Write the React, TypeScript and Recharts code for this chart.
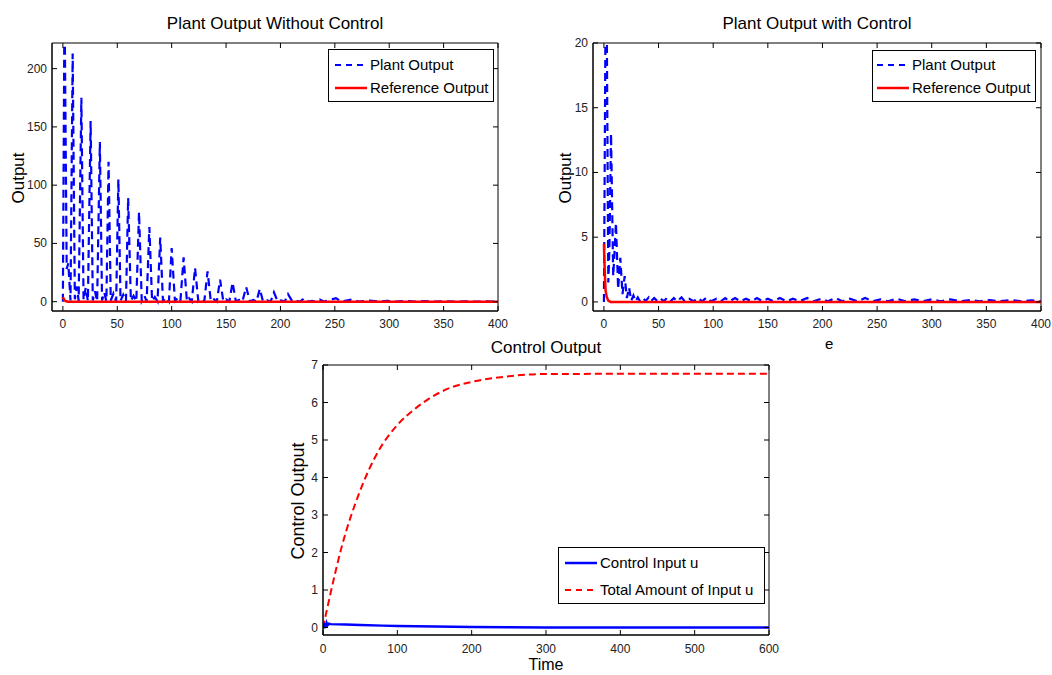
import React from 'react';
import { LineChart, Line, XAxis, YAxis, ReferenceArea } from 'recharts';

const FONT = '"Liberation Sans", Arial, Helvetica, sans-serif';

// --- Plot 1: plant output without control (t, output)
const plantOpen: [number, number][] = [
  [0, 0], [1.5, 260], [3.5, 28], [5, 33], [7, 1],
  [9, 213], [11, 2], [13, 13], [14.5, 0.5],
  [17, 175], [19, 1.5], [21, 12], [23, 0.5],
  [25.5, 155], [27.5, 1], [29.5, 9], [31.5, 0.4],
  [34, 137], [36, 1], [38, 8], [40, 0.4],
  [42, 120], [44, 1], [46.5, 7], [49, 0.3],
  [51, 105], [53, 0.8], [55.5, 6], [58, 0.3],
  [60, 89], [62.5, 0.8], [65, 5], [67.5, 0.3],
  [70, 77], [72.5, 0.6], [75, 5], [77, 0.2],
  [79.5, 64], [82, 0.6], [84.5, 4], [87, 0.2],
  [89.5, 55], [92, 0.5], [95, 3.5], [97.5, 0.2],
  [100, 46], [103, 0.5], [105.5, 3], [108, 0.2],
  [111, 38], [114, 0.4], [116, 3], [118.5, 0.2],
  [121.5, 29], [124.5, 0.4], [127, 2.5], [130, 0.2],
  [133, 26], [136, 0.3], [139, 2], [141.5, 0.1],
  [144.5, 19], [147.5, 0.3], [150, 2], [153, 0.1],
  [156, 16.5], [159, 0.3], [162, 1.5], [165, 0.1],
  [168.5, 12.5], [172, 0.2], [175, 1.5], [178, 0.1],
  [181, 11], [184, 0.2], [187.5, 1.2], [191, 0.1],
  [194, 8], [197.5, 0.2], [200.5, 1], [204, 0.1],
  [207, 6.5], [211, 0.1], [214.5, 0.8], [218, 0.1],
  [222, 3], [226, 0.1], [229, 0.6], [232, 0.05],
  [236, 1.8], [240, 0.1], [251, 3], [256, 0.1],
  [266, 2], [272, 0.1], [282, 1], [290, 0.05],
  [298, 0.8], [306, 0.05], [315, 0.6], [324, 0.05],
  [333, 0.5], [342, 0.05], [351, 0.4], [360, 0.05],
  [370, 0.3], [380, 0.05], [390, 0.2], [400, 0.05],
];
const refOpen: [number, number][] = [
  [0, 4], [1, 2], [2, 0.8], [3, 0.3], [5, 0], [400, 0],
];

// --- Plot 2: plant output with control
const plantCtrl: [number, number][] = [
  [0, 0], [2, 30], [4, 1.5], [5, 4], [6.5, 13], [8.5, 2], [9.5, 3.5], [11, 6.1],
  [13, 1], [15, 3.4], [17, 0.6], [19, 2], [21, 0.3], [23, 1.1], [25, 0.1],
  [27, 0.5], [29, 0.05], [31, 0.35], [33, 0.05], [36, 0.3], [38, 0.05],
  [41, 0.35], [43, 0.05], [46, 0.3], [49, 0.05], [52, 0.25], [55, 0.05],
  [58, 0.35], [61, 0.05], [64, 0.3], [67, 0.05], [71, 0.35], [74, 0.05],
  [78, 0.25], [82, 0.05], [86, 0.3], [90, 0.05], [94, 0.35], [98, 0.05],
  [103, 0.25], [107, 0.05], [111, 0.3], [115, 0.05], [120, 0.3], [125, 0.05],
  [130, 0.25], [135, 0.05], [140, 0.3], [145, 0.05], [150, 0.25], [155, 0.05],
  [161, 0.3], [167, 0.05], [173, 0.25], [179, 0.05], [186, 0.3], [192, 0.05],
  [199, 0.25], [205, 0.05], [212, 0.3], [218, 0.05], [225, 0.25], [232, 0.05],
  [239, 0.3], [246, 0.05], [253, 0.2], [260, 0.05], [268, 0.25], [276, 0.05],
  [284, 0.2], [292, 0.05], [300, 0.2], [308, 0.05], [317, 0.2], [326, 0.05],
  [335, 0.15], [344, 0.05], [353, 0.15], [362, 0.05], [372, 0.15], [382, 0.05],
  [391, 0.12], [400, 0.05],
];
const refCtrl: [number, number][] = [
  [0, 4.5], [0.5, 3], [1, 1.8], [1.5, 0.9], [2.5, 0.4], [4, 0.1], [6, 0], [400, 0],
];

// --- Plot 3: control output
const controlU: [number, number][] = [
  [0, 0], [1, 0.1], [2, -0.02], [3, 0.12], [4, 0], [5, 0.11], [6, 0.06], [8, 0.1],
  [10, 0.09], [30, 0.08], [50, 0.065], [80, 0.05], [100, 0.04], [150, 0.025],
  [200, 0.012], [250, 0.005], [300, 0], [600, 0],
];
const totalU: [number, number][] = [
  [0, 0], [5, 0.45], [10, 0.9], [25, 2.14], [50, 3.65], [75, 4.72], [100, 5.4],
  [125, 5.85], [150, 6.19], [175, 6.42], [200, 6.55], [250, 6.7], [300, 6.76], [600, 6.77],
];

const xTicks400 = [0, 50, 100, 150, 200, 250, 300, 350, 400];
const yTicksOpen = [0, 50, 100, 150, 200];
const yTicksCtrl = [0, 5, 10, 15, 20];
const xTicks600 = [0, 100, 200, 300, 400, 500, 600];
const yTicksU = [0, 1, 2, 3, 4, 5, 6, 7];

const rows = (pairs: [number, number][]) => pairs.map(([t, v]) => ({ t, v }));

const BLUE = '#0000ff';
const RED = '#ff0000';

function XTick(props: any) {
  const { x, y, payload, top, gap } = props;
  return (
    <g>
      <line x1={x} x2={x} y1={y} y2={y - 5} stroke="#000" />
      <line x1={x} x2={x} y1={top} y2={top + 5} stroke="#000" />
      <text x={x} y={y + gap} textAnchor="middle" fontSize={12} fontFamily={FONT} fill="#222">
        {payload.value}
      </text>
    </g>
  );
}

function YTick(props: any) {
  const { x, y, payload, right } = props;
  return (
    <g>
      <line x1={x} x2={x + 5} y1={y} y2={y} stroke="#000" />
      <line x1={right} x2={right - 5} y1={y} y2={y} stroke="#000" />
      <text x={x - 5} y={y + 4} textAnchor="end" fontSize={12} fontFamily={FONT} fill="#222">
        {payload.value}
      </text>
    </g>
  );
}

type Item = { label: string; color: string; dash?: string; width: number };

function LegendBox({ left, top, w, h, sampleX, textX, rowY, items }: {
  left: number; top: number; w: number; h: number; sampleX: number; textX: number; rowY: number[]; items: Item[];
}) {
  return (
    <svg style={{ position: 'absolute', left, top }} width={w} height={h}>
      <rect x={0.5} y={0.5} width={w - 1} height={h - 1} fill="#fff" stroke="#000" />
      {items.map((it, i) => (
        <g key={it.label}>
          <line x1={sampleX} x2={sampleX + 32} y1={rowY[i]} y2={rowY[i]} stroke={it.color}
            strokeWidth={it.width} strokeDasharray={it.dash} />
          <text x={textX} y={rowY[i] + 5} fontSize={15} fontFamily={FONT} fill="#000">{it.label}</text>
        </g>
      ))}
    </svg>
  );
}

function Text({ x, y, size = 17, children, rotate = false }: any) {
  return (
    <div style={{
      position: 'absolute', left: x, top: y, fontSize: size, fontFamily: FONT, color: '#000',
      whiteSpace: 'nowrap', lineHeight: 1,
      transform: `translate(-50%, -50%)${rotate ? ' rotate(-90deg)' : ''}`,
    }}>{children}</div>
  );
}

const plantItems: Item[] = [
  { label: 'Plant Output', color: BLUE, dash: '6 5', width: 2 },
  { label: 'Reference Output', color: RED, width: 2.5 },
];
const controlItems: Item[] = [
  { label: 'Control Input u', color: BLUE, width: 2.5 },
  { label: 'Total Amount of Input u', color: RED, dash: '6 5', width: 2 },
];

export default function App() {
  return (
    <div style={{ position: 'absolute', left: 0, top: 0, width: 1052, height: 675, background: '#fff', overflow: 'hidden' }}>
      {/* left: without control */}
      <div style={{ position: 'absolute', left: 0, top: 0 }}>
        <LineChart width={520} height={345} margin={{ top: 43, right: 22, bottom: 9, left: 12 }}>
          <XAxis dataKey="t" type="number" domain={[-10, 400]} ticks={xTicks400} interval={0}
            allowDataOverflow height={25} tickSize={0} tickMargin={0} stroke="#000"
            tick={(p: any) => <XTick {...p} top={43} gap={17} />} />
          <YAxis type="number" domain={[-8, 222]} ticks={yTicksOpen} interval={0}
            allowDataOverflow width={40} tickSize={0} tickMargin={0} stroke="#000"
            tick={(p: any) => <YTick {...p} right={498} />} />
          <ReferenceArea x1={-10} x2={400} y1={-8} y2={222} fill="none" stroke="#000" />
          <Line data={rows(plantOpen)} dataKey="v" type="linear" stroke={BLUE} strokeWidth={2.2}
            strokeDasharray="8 5" dot={false} isAnimationActive={false} />
          <Line data={rows(refOpen)} dataKey="v" type="linear" stroke={RED} strokeWidth={2.5}
            dot={false} isAnimationActive={false} />
        </LineChart>
      </div>
      <Text x={275} y={23}>Plant Output Without Control</Text>
      <Text x={18} y={178} rotate>Output</Text>
      <LegendBox left={328} top={49} w={166} h={53} sampleX={7} textX={42} rowY={[16, 39]} items={plantItems} />

      {/* right: with control */}
      <div style={{ position: 'absolute', left: 540, top: 0 }}>
        <LineChart width={520} height={345} margin={{ top: 43, right: 19, bottom: 9, left: 13 }}>
          <XAxis dataKey="t" type="number" domain={[-10, 400]} ticks={xTicks400} interval={0}
            allowDataOverflow height={25} tickSize={0} tickMargin={0} stroke="#000"
            tick={(p: any) => <XTick {...p} top={43} gap={17} />} />
          <YAxis type="number" domain={[-0.7, 20]} ticks={yTicksCtrl} interval={0}
            allowDataOverflow width={40} tickSize={0} tickMargin={0} stroke="#000"
            tick={(p: any) => <YTick {...p} right={501} />} />
          <ReferenceArea x1={-10} x2={400} y1={-0.7} y2={20} fill="none" stroke="#000" />
          <Line data={rows(plantCtrl)} dataKey="v" type="linear" stroke={BLUE} strokeWidth={2.2}
            strokeDasharray="8 5" dot={false} isAnimationActive={false} />
          <Line data={rows(refCtrl)} dataKey="v" type="linear" stroke={RED} strokeWidth={2.5}
            dot={false} isAnimationActive={false} />
        </LineChart>
      </div>
      <Text x={817} y={23}>Plant Output with Control</Text>
      <Text x={565} y={178} rotate>Output</Text>
      <Text x={817} y={343} size={15}>Time</Text>
      <LegendBox left={872} top={50} w={164} h={52} sampleX={5} textX={40} rowY={[15, 38]} items={plantItems} />

      {/* bottom: control output (its white figure hides the upper x labels) */}
      <div style={{ position: 'absolute', left: 230, top: 333, width: 595, height: 342, background: '#fff' }}>
        <LineChart width={591} height={342} margin={{ top: 32, right: 52, bottom: 15, left: 53 }}>
          <XAxis dataKey="t" type="number" domain={[0, 600]} ticks={xTicks600} interval={0}
            allowDataOverflow height={25} tickSize={0} tickMargin={0} stroke="#000"
            tick={(p: any) => <XTick {...p} top={32} gap={18} />} />
          <YAxis type="number" domain={[-0.2, 7]} ticks={yTicksU} interval={0}
            allowDataOverflow width={40} tickSize={0} tickMargin={0} stroke="#000"
            tick={(p: any) => <YTick {...p} right={539} />} />
          <ReferenceArea x1={0} x2={600} y1={-0.2} y2={7} fill="none" stroke="#000" />
          <Line data={rows(totalU)} dataKey="v" type="monotone" stroke={RED} strokeWidth={2}
            strokeDasharray="7 4" dot={false} isAnimationActive={false} />
          <Line data={rows(controlU)} dataKey="v" type="linear" stroke={BLUE} strokeWidth={2.5}
            dot={false} isAnimationActive={false} />
        </LineChart>
      </div>
      <Text x={546} y={347}>Control Output</Text>
      <Text x={298} y={501} size={18} rotate>Control Output</Text>
      <Text x={546} y={665} size={16}>Time</Text>
      <LegendBox left={558} top={547} w={207} h={57} sampleX={7} textX={42} rowY={[16, 43]} items={controlItems} />
    </div>
  );
}
